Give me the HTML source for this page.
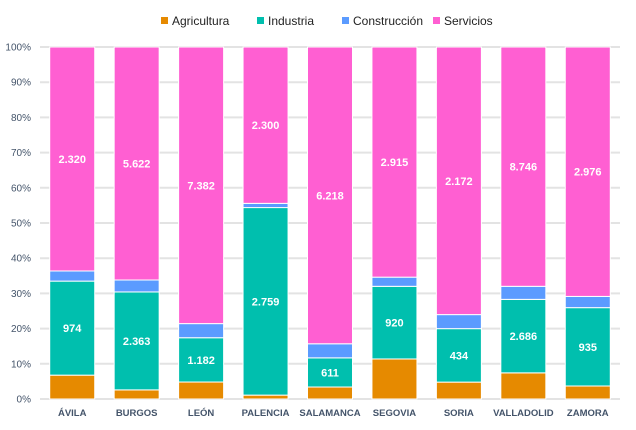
<!DOCTYPE html>
<html><head><meta charset="utf-8"><style>
body{margin:0;background:#fff;}
svg{display:block;font-family:"Liberation Sans",sans-serif;}
</style></head><body>
<svg id="c" width="636" height="430"></svg>
<script>
const categories=["ÁVILA","BURGOS","LEÓN","PALENCIA","SALAMANCA","SEGOVIA","SORIA","VALLADOLID","ZAMORA"];
const seriesNames=["Agricultura","Industria","Construcción","Servicios"];
const agricultura=[247,220,453,57,251,507,137,955,155];
const industria=[974,2363,1182,2759,611,920,434,2686,935];
const construccion=[105,288,377,62,295,116,114,477,134];
const servicios=[2320,5622,7382,2300,6218,2915,2172,8746,2976];
const showLabels=[false,true,false,true];
const yTicks=[0,10,20,30,40,50,60,70,80,90,100];
const colors=["#E68A00","#00BFAE","#5B9BFF","#FF5FD2"];
const NS="http://www.w3.org/2000/svg";
const svg=document.getElementById("c");
const x0=40,x1=620,yBase=399,yTop=47;
const y=p=>yBase-(p/100)*(yBase-yTop);
const band=(x1-x0)/categories.length;
const bx=i=>x0+band*i+band/2;
const bw=45;
function el(t,a){const e=document.createElementNS(NS,t);for(const k in a)e.setAttribute(k,a[k]);svg.appendChild(e);return e;}
yTicks.forEach(t=>{
 const g=el("line",{x1:x0,x2:x1,y1:y(t),y2:y(t),stroke:"#e3e3e3","stroke-width":2});
 
 
 const l=el("text",{x:31,y:y(t)+3.5,"text-anchor":"end","font-size":10,fill:"#44546A"});
 l.textContent=t+"%";
 
 
});
const series=[agricultura,industria,construccion,servicios];
categories.forEach((c,i)=>{
 const tot=series.reduce((s,a)=>s+a[i],0);
 let acc=0;
 series.forEach((a,s)=>{
  const p0=acc/tot*100;acc+=a[i];const p1=acc/tot*100;
  const r=el("rect",{x:bx(i)-bw/2,y:y(p1),width:bw,height:y(p0)-y(p1),fill:colors[s],stroke:"#fff","stroke-width":1});
  
  
  if(showLabels[s]){
   const t=el("text",{x:bx(i),y:(y(p0)+y(p1))/2+4,"text-anchor":"middle","font-size":11,"font-weight":"bold",fill:"#fff"});
   t.textContent=a[i].toLocaleString("de-DE");
   
   
  }
 });
 const xl=el("text",{x:bx(i),y:416,"text-anchor":"middle","font-size":9.5,"font-weight":"bold",fill:"#44546A"});
 xl.textContent=c;
 
 
});
const legX=[161,257,342,433];
seriesNames.forEach((n,s)=>{
 const r=el("rect",{x:legX[s],y:17,width:7,height:7,fill:colors[s]});
 
 
 const t=el("text",{x:legX[s]+11,y:25,"font-size":12,fill:"#222"});
 t.textContent=n;
 
 
});
</script>
</body></html>
